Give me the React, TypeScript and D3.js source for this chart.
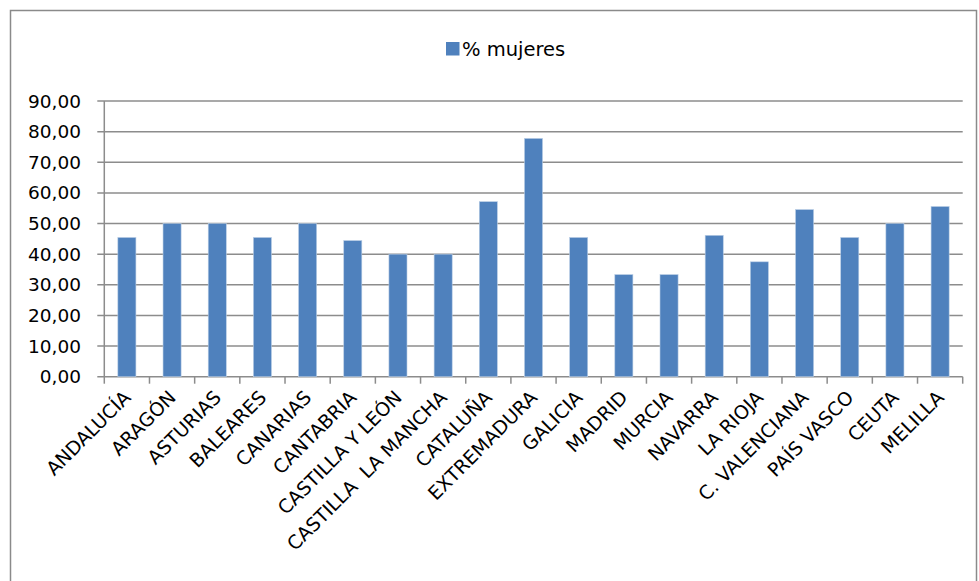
import React from "react";
import * as d3 from "d3";

const categories = [
  "ANDALUCÍA", "ARAGÓN", "ASTURIAS", "BALEARES", "CANARIAS", "CANTABRIA",
  "CASTILLA Y LEÓN", "CASTILLA  LA MANCHA", "CATALUÑA", "EXTREMADURA", "GALICIA",
  "MADRID", "MURCIA", "NAVARRA", "LA RIOJA", "C. VALENCIANA", "PAÍS VASCO",
  "CEUTA", "MELILLA",
];
const values = [
  45.45, 50, 50, 45.45, 50, 44.44, 40, 40, 57.14, 77.78, 45.45, 33.33, 33.33,
  46.15, 37.5, 54.55, 45.45, 50, 55.56,
];
const yTicks = [0, 10, 20, 30, 40, 50, 60, 70, 80, 90];
const seriesName = "% mujeres";

const W = 979;
const H = 581;
const left = 104.3;
const right = 962.7;
const top = 101;
const bottom = 376.7;
const FONT = "'DejaVu Sans', sans-serif";

export default function App() {
  const band = d3.scaleBand<string>().domain(categories).range([left, right]);
  const y = d3.scaleLinear().domain([0, 90]).range([bottom, top]);
  const fmt = (v: number) => v.toFixed(2).replace(".", ",");
  const bw = band.bandwidth() / 2.5;
  return (
    <div style={{ position: "absolute", left: 0, top: 0 }}>
      <svg width={W} height={H} style={{ display: "block", background: "#fff" }}>
        <rect x={10.5} y={10.5} width={966} height={600} fill="#fff" stroke="#8a8a8a" strokeWidth={1.5} />
        {/* legend */}
        <rect x={446} y={42} width={13.5} height={13.5} fill="#4F81BD" />
        <text x={462} y={56} fontFamily={FONT} fontSize={19.5} fill="#000">{seriesName}</text>
        {/* gridlines */}
        {yTicks.map((t) => (
          <line key={"g" + t} x1={left - 7} x2={right} y1={y(t)} y2={y(t)} stroke="#8c8c8c" strokeWidth={1.5} />
        ))}
        {yTicks.map((t) => (
          <text key={"l" + t} x={81} y={y(t) + 6.5} textAnchor="end" fontFamily={FONT} fontSize={18.5} fill="#000">{fmt(t)}</text>
        ))}
        {/* y axis line */}
        <line x1={left} x2={left} y1={top} y2={bottom} stroke="#8c8c8c" strokeWidth={1.5} />
        {/* bars */}
        {categories.map((c, i) => {
          const cx = (band(c) as number) + band.bandwidth() / 2;
          return (
            <rect key={"b" + c} x={cx - bw / 2} y={y(values[i])} width={bw} height={bottom - y(values[i])} fill="#4F81BD" stroke="#b9cde5" strokeWidth={0.6} />
          );
        })}
        {/* x ticks */}
        {d3.range(categories.length + 1).map((i) => {
          const xx = left + i * band.step();
          return <line key={"t" + i} x1={xx} x2={xx} y1={bottom} y2={bottom + 7} stroke="#8c8c8c" strokeWidth={1.5} />;
        })}
        {/* x labels */}
        {categories.map((c) => {
          const cx = (band(c) as number) + band.bandwidth() / 2;
          return (
            <text key={"x" + c} transform={`translate(${cx + 5},${bottom + 22}) rotate(-45)`} textAnchor="end" fontFamily={FONT} fontSize={19} fill="#000" style={{ whiteSpace: "pre" }}>{c}</text>
          );
        })}
      </svg>
    </div>
  );
}
